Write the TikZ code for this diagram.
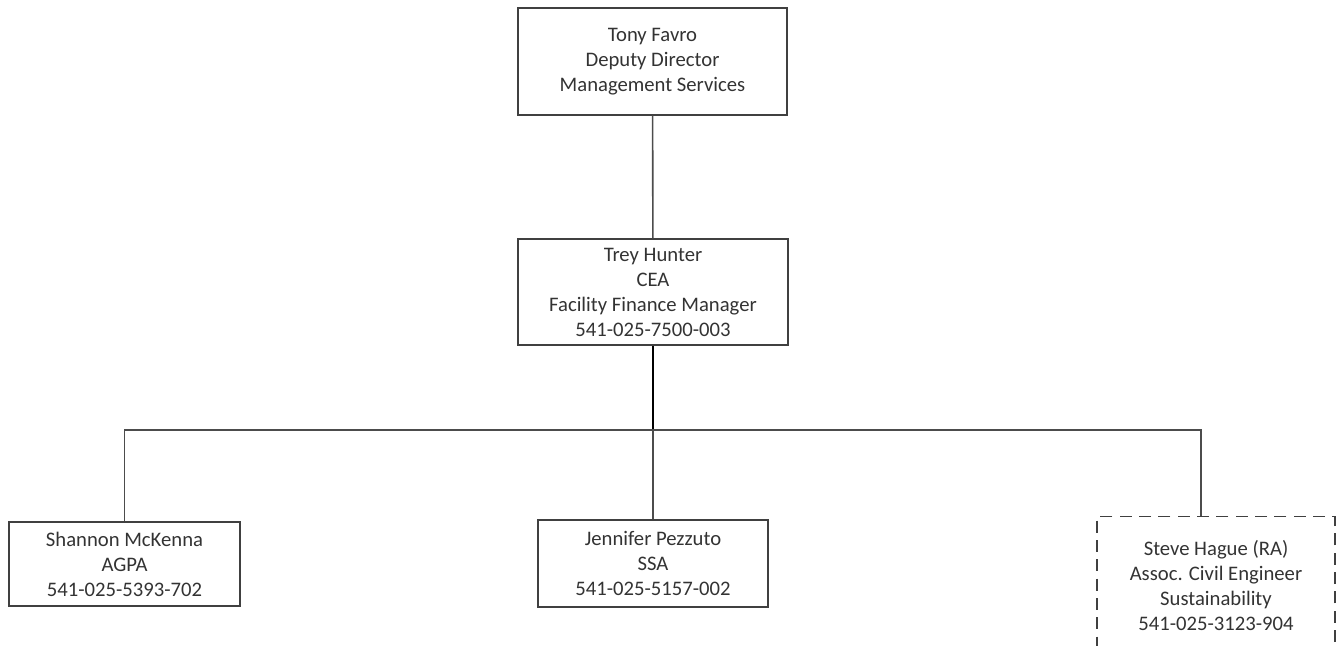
\documentclass[tikz,border=0pt]{standalone}
\usepackage{fontspec}
\setmainfont{Carlito}
\usepackage{tikz}

\tikzset{
  staffbox/.style={draw=black!75, line width=1.1pt, align=center, inner sep=2pt,
    font=\fontsize{15.5}{18.75}\selectfont, text=black!80},
  vacantbox/.style={staffbox, dash pattern=on 9pt off 5.5pt},
  link/.style={draw=black!70, line width=1.2pt}
}

\begin{document}
\begin{tikzpicture}[x=0.75pt, y=-0.75pt]

    % page frame
    \useasboundingbox (0,0) rectangle (1339,646);
    \clip (0,0) rectangle (1339,646);

    % boxes
    \node[staffbox, minimum width=201.75pt, minimum height=80.25pt] (favro) at (652.5,61.5)
      {Tony Favro\\Deputy Director\\Management Services};
    \node[staffbox, minimum width=202.5pt, minimum height=79.5pt] (hunter) at (653,292)
      {Trey Hunter\\CEA\\Facility Finance Manager\\541-025-7500-003};
    \node[staffbox, minimum width=173.25pt, minimum height=63pt] (mckenna) at (124.5,564)
      {Shannon McKenna\\AGPA\\541-025-5393-702};
    \node[staffbox, minimum width=172.5pt, minimum height=65.25pt] (pezzuto) at (653,563.5)
      {Jennifer Pezzuto\\SSA\\541-025-5157-002};
    \node[vacantbox, minimum width=178.5pt, minimum height=104pt] (hague) at (1216,586)
      {Steve Hague (RA)\\Assoc. Civil Engineer\\Sustainability\\541-025-3123-904};

    % bus line
    \coordinate (busL) at (124.5,430);
    \coordinate (busR) at (1201,430);

    % connectors
    \draw[link] (favro) -- (hunter);
    \draw[link, draw=black, line width=1.6pt] (hunter.south) -- (hunter.south |- busL);
    \draw[link] (mckenna.north) |- (busR) -- (busR |- hague.north);
    \draw[link] (pezzuto.north) -- (pezzuto.north |- busL);

\end{tikzpicture}
\end{document}
